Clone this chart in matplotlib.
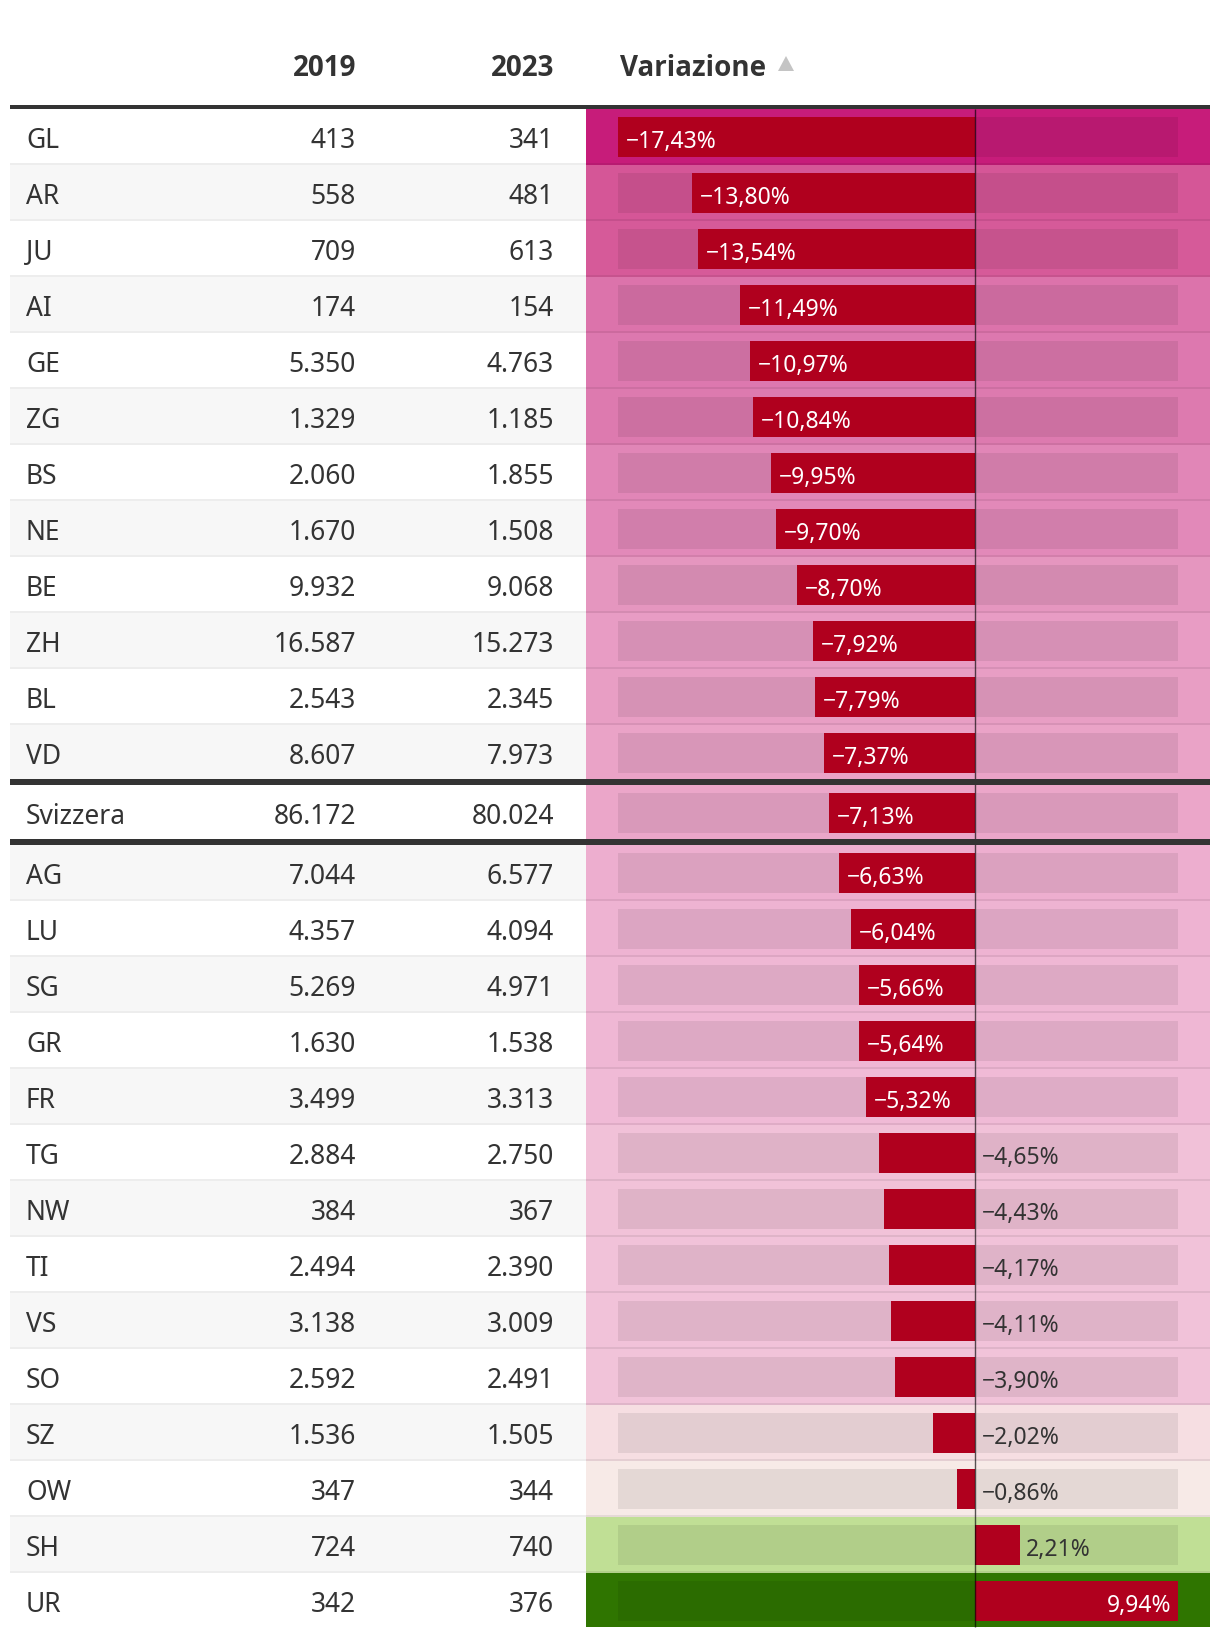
import numpy as np
import matplotlib
matplotlib.use("Agg")
import matplotlib.pyplot as plt
from matplotlib.patches import Rectangle, Polygon
from matplotlib.colors import to_rgb

# ---------------- data ----------------
cantons = ["GL", "AR", "JU", "AI", "GE", "ZG", "BS", "NE", "BE", "ZH", "BL", "VD",
           "Svizzera",
           "AG", "LU", "SG", "GR", "FR", "TG", "NW", "TI", "VS", "SO", "SZ", "OW", "SH", "UR"]
v2019 = [413, 558, 709, 174, 5350, 1329, 2060, 1670, 9932, 16587, 2543, 8607,
         86172,
         7044, 4357, 5269, 1630, 3499, 2884, 384, 2494, 3138, 2592, 1536, 347, 724, 342]
v2023 = [341, 481, 613, 154, 4763, 1185, 1855, 1508, 9068, 15273, 2345, 7973,
         80024,
         6577, 4094, 4971, 1538, 3313, 2750, 367, 2390, 3009, 2491, 1505, 344, 740, 376]
change = [-17.43, -13.80, -13.54, -11.49, -10.97, -10.84, -9.95, -9.70, -8.70, -7.92, -7.79, -7.37,
          -7.13,
          -6.63, -6.04, -5.66, -5.64, -5.32, -4.65, -4.43, -4.17, -4.11, -3.90, -2.02, -0.86, 2.21, 9.94]
headers = ["2019", "2023", "Variazione"]
total_label = "Svizzera"

# colour scale anchors (value -> colour) for the Variazione cells
scale_vals = [-17.43, -13.7, -11.5, -10.9, -9.8, -8.7, -7.85, -7.13, -6.63, -5.3, -4.65, -3.9, -2.02, -0.86, 0.0, 2.21, 9.94]
scale_cols = ["#C71C7A", "#D55898", "#DC73AB", "#DD79AF", "#E288B8", "#E596BF", "#E89DC4", "#EBA6C9",
              "#EDAECF", "#F0BAD6", "#F1C1D8", "#F1C3D9", "#F6DEE2", "#F7EAE7", "#F7F7F7", "#C0DF95", "#2F7500"]

def scale_color(v):
    rgb = np.array([to_rgb(c) for c in scale_cols])
    return tuple(np.interp(v, scale_vals, rgb[:, k]) for k in range(3))

def fmt_int(v):
    return f"{v:,}".replace(",", ".")

def fmt_pct(v):
    s = f"{abs(v):.2f}".replace(".", ",") + "%"
    return ("\u2212" + s) if v < 0 else s

# ---------------- layout (pixels) ----------------
W, H = 1220, 1640
TABLE_L, TABLE_R = 10, 1210
COL_L = 586            # start of Variazione column
TRACK_INSET = 32
ROW_CONTENT = 54
SEP = 2
THICK = 6
FIRST_TOP = 110
TEXT_C = "#333333"
BAR_C = "#B0001E"
FONT = ["Noto Sans", "DejaVu Sans"]
HFONT = ["Open Sans", "Noto Sans", "DejaVu Sans"]
px2pt = 72 / 100

total_idx = cantons.index(total_label)
row_tops = []
y = FIRST_TOP
for i in range(len(cantons)):
    row_tops.append(y)
    gap = THICK if i in (total_idx - 1, total_idx) else SEP
    y += ROW_CONTENT + gap
row_tops = np.array(row_tops, dtype=float)

fig = plt.figure(figsize=(W / 100, H / 100), dpi=100)
fig.patch.set_facecolor("white")
ax = fig.add_axes([0, 0, 1, 1])
ax.set_xlim(0, W)
ax.set_ylim(H, 0)
ax.axis("off")
ax.set_zorder(0)

# zebra stripes + coloured cells
for i, top in enumerate(row_tops):
    nxt = row_tops[i + 1] if i + 1 < len(row_tops) else top + ROW_CONTENT
    if i % 2 == 1:
        ax.add_patch(Rectangle((TABLE_L, top), COL_L - TABLE_L, ROW_CONTENT, color="#F7F7F7", lw=0))
    ax.add_patch(Rectangle((COL_L, top), TABLE_R - COL_L, nxt - top, color=scale_color(change[i]), lw=0))

# separators
for i, top in enumerate(row_tops[:-1]):
    if i in (total_idx - 1, total_idx):
        continue
    ax.add_patch(Rectangle((TABLE_L, top + ROW_CONTENT), TABLE_R - TABLE_L, SEP,
                           color="black", alpha=0.07, lw=0))

# text columns
for i, top in enumerate(row_tops):
    base = top + 38
    ax.text(26, base, cantons[i], ha="left", va="baseline", fontsize=19, color=TEXT_C, family=FONT)
    ax.text(356, base, fmt_int(v2019[i]), ha="right", va="baseline", fontsize=19, color=TEXT_C, family=FONT)
    ax.text(554, base, fmt_int(v2023[i]), ha="right", va="baseline", fontsize=19, color=TEXT_C, family=FONT)

# header
hkw = dict(va="baseline", fontsize=20, fontweight="bold", color=TEXT_C, family=HFONT)
ax.text(356, 76, headers[0], ha="right", **hkw)
ax.text(554, 76, headers[1], ha="right", **hkw)
ax.text(620, 76, headers[2], ha="left", **hkw)
ax.add_patch(Polygon([(778, 72), (794, 72), (786, 57)], closed=True, color="#C4C4C4", lw=0))

# ---------------- bar axes over the Variazione column ----------------
cmin, cmax = min(change), max(change)
track_w = (TABLE_R - COL_L) - 2 * TRACK_INSET
pad = (cmax - cmin) * TRACK_INSET / track_w
bx = fig.add_axes([COL_L / W, 0, (TABLE_R - COL_L) / W, 1])
bx.set_zorder(1)
bx.patch.set_visible(False)
bx.set_xlim(cmin - pad, cmax + pad)
bx.set_ylim(H, 0)
bx.axis("off")

centers = row_tops + 28
bx.barh(centers, [cmax - cmin] * len(centers), left=cmin, height=40, color="black", alpha=0.075, lw=0)
bx.barh(centers, change, left=0, height=40, color=BAR_C, lw=0, zorder=3)
bx.vlines(0, FIRST_TOP, row_tops[-1] + ROW_CONTENT, color="black", alpha=0.65, lw=1.4 * px2pt, zorder=4)

upp = (cmax - cmin + 2 * pad) / (TABLE_R - COL_L)   # data units per pixel
for c, v, top in zip(centers, change, row_tops):
    base = top + 38
    lbl = fmt_pct(v)
    inside = abs(v) >= 5
    kw = dict(va="baseline", fontsize=16.5, family=FONT, zorder=5)
    if v < 0:
        if inside:
            bx.text(v + 8 * upp, base, lbl, ha="left", color="white", **kw)
        else:
            bx.text(7 * upp, base, lbl, ha="left", color=TEXT_C, **kw)
    else:
        if inside:
            bx.text(v - 7 * upp, base, lbl, ha="right", color="white", **kw)
        else:
            bx.text(v + 6 * upp, base, lbl, ha="left", color=TEXT_C, **kw)

# ---------------- rules on top ----------------
lx = fig.add_axes([0, 0, 1, 1])
lx.set_zorder(2)
lx.patch.set_visible(False)
lx.set_xlim(0, W)
lx.set_ylim(H, 0)
lx.axis("off")
lx.add_patch(Rectangle((TABLE_L, FIRST_TOP - 4), TABLE_R - TABLE_L, 4, color="#333333", lw=0))
for i in (total_idx - 1, total_idx):
    lx.add_patch(Rectangle((TABLE_L, row_tops[i] + ROW_CONTENT), TABLE_R - TABLE_L, THICK, color="#333333", lw=0))

fig.savefig("out.png", dpi=100, facecolor="white")
